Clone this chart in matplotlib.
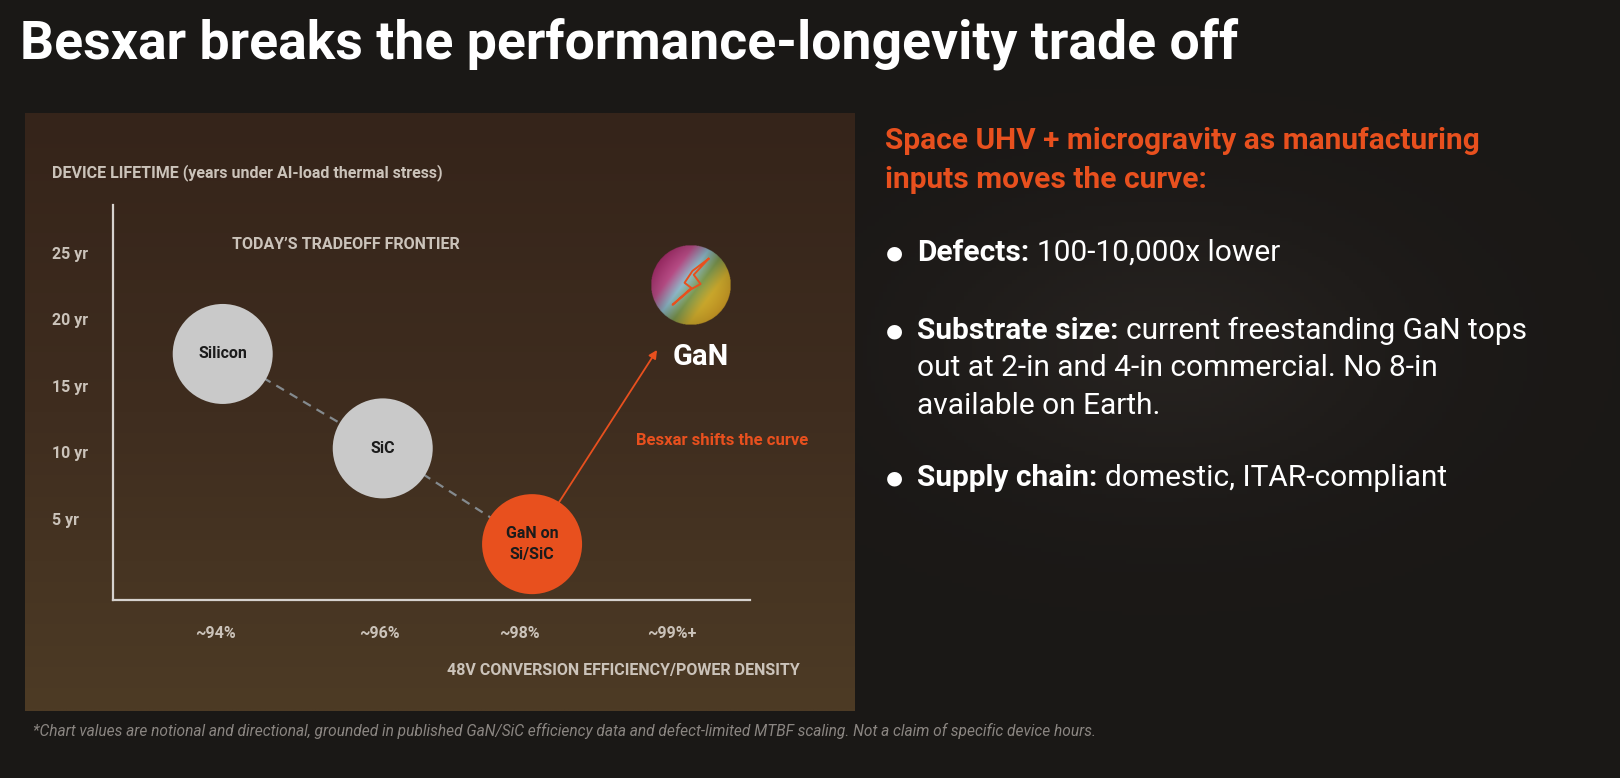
import numpy as np
import matplotlib
matplotlib.use("Agg")
import matplotlib.pyplot as plt
from matplotlib.colors import LinearSegmentedColormap, to_rgb

# data (notional values)
materials = ["Silicon", "SiC", "GaN on\nSi/SiC"]
eff_pos = [0.05, 1.10, 2.08]          # position along the efficiency axis
lifetime = [17.5, 10.4, 3.2]          # years
gan_pos, gan_life = 3.12, 22.7        # the "GaN" sphere
x_ticks = [0.0, 1.08, 2.0, 3.0]
x_labels = ["~94%", "~96%", "~98%", "~99%+"]
y_ticks = [25, 20, 15, 10, 5]
y_labels = ["25 yr", "20 yr", "15 yr", "10 yr", "5 yr"]
bullets = [
    ("Defects:", ["100-10,000x lower"]),
    ("Substrate size:", ["current freestanding GaN tops",
                         "out at 2-in and 4-in commercial. No 8-in",
                         "available on Earth."]),
    ("Supply chain:", ["domestic, ITAR-compliant"]),
]

ORANGE = "#e8501e"
GREY_TXT = "#cbc3ba"
W, H = 1620, 778

plt.rcParams["font.family"] = ["Roboto", "DejaVu Sans"]

fig = plt.figure(figsize=(W / 100, H / 100), dpi=100, facecolor="#1c1917")

# dark background with a faint warm glow
bg = fig.add_axes([0, 0, 1, 1], zorder=-3)
gy, gx = np.mgrid[0:1:200j, 0:1:400j]
base = 0.10 + 0.04 * np.exp(-((gx - 0.72) ** 2 / 0.02 + (gy - 0.45) ** 2 / 0.03))
img = np.dstack([base * 1.05, base * 0.95, base * 0.88])
bg.imshow(np.clip(img, 0, 1), aspect="auto", extent=[0, 1, 0, 1])
bg.set_axis_off()

# brown chart panel
pn = fig.add_axes([25 / W, (H - 711) / H, 830 / W, 598 / H], zorder=-2)
t = np.linspace(0, 1, 200)[:, None]
top = np.array(to_rgb("#35241a"))
mid = np.array(to_rgb("#3f2d1f"))
bot = np.array(to_rgb("#4d3b25"))
col = np.where(t[..., None] < 0.5,
               top + (mid - top) * (t[..., None] / 0.5),
               mid + (bot - mid) * ((t[..., None] - 0.5) / 0.5))
col = np.repeat(col, 10, axis=1)
pn.imshow(col, aspect="auto", extent=[0, 1, 0, 1])
pn.set_axis_off()

# main axes
ax = fig.add_axes([113 / W, (H - 600) / H, 637 / W, 395 / H])
ax.set_facecolor("none")
ax.set_xlim(-0.67, 3.51)
ax.set_ylim(-1.0, 28.7)
for s in ["top", "right"]:
    ax.spines[s].set_visible(False)
for s in ["left", "bottom"]:
    ax.spines[s].set_color("#d6d2ce")
    ax.spines[s].set_linewidth(1.6)
ax.set_xticks(x_ticks)
ax.set_xticklabels(x_labels, fontsize=11.5, color=GREY_TXT, fontweight="bold")
ax.tick_params(axis="x", length=0, pad=19)
ax.set_yticks([])
for yv, lab in zip(y_ticks, y_labels):
    ax.text(-0.096, yv, lab, transform=ax.get_yaxis_transform(), ha="left",
            va="center", fontsize=11.5, color=GREY_TXT, fontweight="bold")

# frontier dashed line and circles
ax.plot(eff_pos, lifetime, ls=(0, (4, 3)), color="#848a8e", lw=1.6, zorder=1)
colors = ["#c9c9c9", "#c9c9c9", ORANGE]
ax.scatter(eff_pos, lifetime, s=72 ** 2, c=colors, edgecolors="none", zorder=2)
for x, y, m in zip(eff_pos, lifetime, materials):
    ax.text(x, y, m, ha="center", va="center", fontsize=11.5, fontweight="bold",
            color="#1b1b1b", zorder=3, linespacing=1.5)

ax.text(0.86, 25.7, "TODAY\u2019S TRADEOFF FRONTIER", ha="center", va="center",
        fontsize=11.5, fontweight="bold", color=GREY_TXT)

# arrow to GaN
ax.annotate("", xy=(2.90, 17.8), xytext=(eff_pos[2], lifetime[2]),
            arrowprops=dict(arrowstyle="-|>", color=ORANGE, lw=1.3,
                            shrinkA=34, shrinkB=0, mutation_scale=12))
ax.annotate("GaN", (gan_pos, gan_life), xytext=(7, -52), textcoords="offset points",
            ha="center", va="center", fontsize=21, fontweight="bold", color="white")
ax.text(3.33, 11.0, "Besxar shifts the curve", ha="center", va="center",
        fontsize=12, fontweight="bold", color=ORANGE)

# GaN sphere as a small gradient disc placed at its data point
cx, cy = ax.transData.transform((gan_pos, gan_life))
r = 40
sp = fig.add_axes([(cx - r) / W, (cy - r) / H, 2 * r / W, 2 * r / H])
yy, xx = np.mgrid[1:-1:200j, -1:1:200j]
proj = (xx * 0.8 - yy * 0.6 + 1.1) / 2.2
cmap = LinearSegmentedColormap.from_list("gan", [
    (0.0, "#b02a6e"), (0.25, "#c0508c"), (0.42, "#8fbccc"),
    (0.58, "#7f9a50"), (0.75, "#d4b02e"), (1.0, "#e0a626")])
rgba = cmap(np.clip(proj, 0, 1))
shade = 1 - 0.18 * (xx ** 2 + yy ** 2)
rgba[..., :3] *= shade[..., None]
rgba[..., 3] = (xx ** 2 + yy ** 2 <= 1).astype(float)
sp.imshow(rgba, extent=[-1, 1, -1, 1])
bolt_x = [0.45, 0.05, -0.15, 0.02, -0.45, 0.0, 0.25, 0.08, 0.45]
bolt_y = [0.65, 0.35, 0.05, -0.08, -0.5, -0.12, 0.02, 0.25, 0.65]
sp.plot(bolt_x, bolt_y, color=ORANGE, lw=1.4)
sp.set_xlim(-1, 1)
sp.set_ylim(-1, 1)
sp.set_axis_off()

# chart labels
fig.text(52 / W, 1 - 173 / H, "DEVICE LIFETIME (years under AI-load thermal stress)",
         fontsize=11.5, color=GREY_TXT, fontweight="bold", va="center")
fig.text(800 / W, 1 - 671 / H, "48V CONVERSION EFFICIENCY/POWER DENSITY",
         fontsize=11.5, color=GREY_TXT, fontweight="bold", va="center", ha="right")

# title
fig.text(20 / W, 1 - 44 / H, "Besxar breaks the performance-longevity trade off",
         fontsize=38.5, fontweight="bold", color="white", va="center")

# right-hand text
fig.text(885 / W, 1 - 141 / H, "Space UHV + microgravity as manufacturing",
         fontsize=21.5, fontweight="bold", color=ORANGE, va="center")
fig.text(885 / W, 1 - 180 / H, "inputs moves the curve:",
         fontsize=21.5, fontweight="bold", color=ORANGE, va="center")

renderer = fig.canvas.get_renderer()
line_y = [253, 331, 478]
for (head, rest), y0 in zip(bullets, line_y):
    fig.text(886 / W, 1 - y0 / H, "\u25cf", fontsize=14, color="white",
             va="center", family="DejaVu Sans")
    hd = fig.text(917 / W, 1 - y0 / H, head, fontsize=21.5, fontweight="bold",
                  color="white", va="center")
    bb = hd.get_window_extent(renderer)
    fig.text((bb.x1 + 8) / W, 1 - y0 / H, rest[0], fontsize=21.5, color="white",
             va="center")
    for k, ln in enumerate(rest[1:], start=1):
        fig.text(917 / W, 1 - (y0 + 37.5 * k) / H, ln, fontsize=21.5, color="white",
                 va="center")

fig.text(33 / W, 1 - 731 / H,
         "*Chart values are notional and directional, grounded in published GaN/SiC "
         "efficiency data and defect-limited MTBF scaling. Not a claim of specific device hours.",
         fontsize=11.2, style="italic", color="#8a8581", va="center")

fig.savefig("out.png", dpi=100, facecolor=fig.get_facecolor())
